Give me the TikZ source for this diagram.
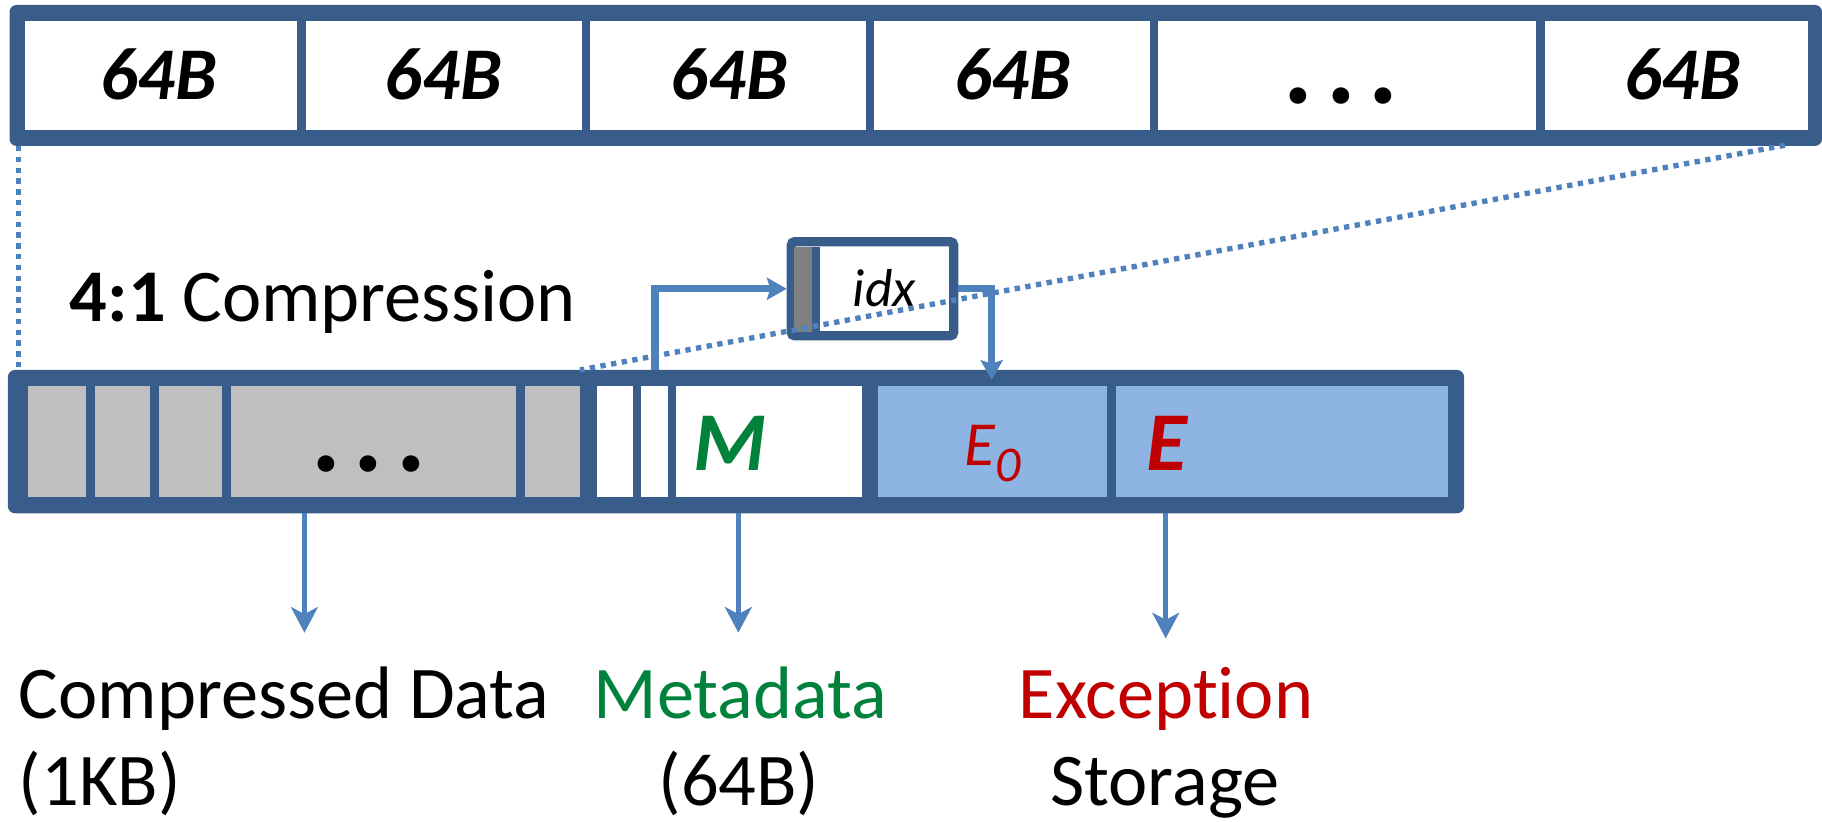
\documentclass[tikz,border=0pt]{standalone}
\usepackage{fontspec}
\setmainfont{Carlito}[Ligatures=NoCommon]
\usetikzlibrary{arrows.meta}
\definecolor{frameblue}{RGB}{56,93,138}
\definecolor{arrowblue}{RGB}{79,129,189}
\definecolor{cellgray}{RGB}{191,191,191}
\definecolor{cellblue}{RGB}{142,180,227}
\definecolor{idxgray}{RGB}{128,128,128}
\definecolor{mgreen}{RGB}{0,130,60}
\definecolor{ered}{RGB}{192,0,0}
\tikzset{
  framefill/.style={fill=frameblue, rounded corners=6pt},
  lbl/.style={font=\fontsize{64}{70}\selectfont, inner sep=0pt},
  bigtxt/.style={font=\fontsize{64}{70}\selectfont\bfseries\itshape, inner sep=0pt},
  dottxt/.style={font=\fontsize{96}{100}\selectfont\bfseries\itshape, inner sep=0pt},
  hugetxt/.style={font=\fontsize{72}{80}\selectfont\bfseries\itshape, inner sep=0pt},
  conn/.style={draw=arrowblue, line width=4.3pt, -{Stealth[length=22pt, width=23pt, inset=6pt]}},
  link/.style={draw=arrowblue, line width=6.3pt, -{Stealth[length=17pt, width=19pt, inset=3pt]}},
  guide/.style={draw=arrowblue, line width=4.6pt, dash pattern=on 4.6pt off 4.7pt},
}
\begin{document}
\begin{tikzpicture}[x=1pt,y=-1pt]
\useasboundingbox (0,0) rectangle (1568,707);

% ---------- top bar ----------
\fill[framefill] (8.2,4.3) rectangle (1568,125.6);
\foreach \a/\b in {21.4/255.2, 263/500.6, 508/745, 752.5/989.5, 996.6/1321.7, 1329.2/1555.6}
  \fill[white] (\a,18) rectangle (\b,111.9);
\node[bigtxt, anchor=base] (t1) at (136.5,86) {64B};
\node[bigtxt, anchor=base] (t2) at (381.5,86) {64B};
\node[bigtxt, anchor=base] (t3) at (627.5,86) {64B};
\node[bigtxt, anchor=base] (t4) at (871.5,86) {64B};
\node[dottxt, anchor=base] (t5) at (1156,89) {.\hspace{11pt}.\hspace{11pt}.};
\node[bigtxt, anchor=base] (t6) at (1448,86) {64B};

% ---------- bottom bar ----------
\fill[framefill] (6.8,318.4) rectangle (1260,441.7);
\foreach \a/\b in {24.5/74.2, 81.7/129.3, 136.8/191.2, 198.7/444, 451.6/499.2}
  \fill[cellgray] (\a,332.2) rectangle (\b,428);
\foreach \a/\b in {514/545, 552/575, 582/741.5}
  \fill[white] (\a,332.2) rectangle (\b,428);
\foreach \a/\b in {756/953, 960/1246.4}
  \fill[cellblue] (\a,332.2) rectangle (\b,428);
\node[dottxt, anchor=base] (gd) at (319,406) {.\hspace{11pt}.\hspace{11pt}.};
\node[hugetxt, anchor=base, text=mgreen] (mm) at (628.5,404.5) {M};
\node[inner sep=0pt, anchor=base, text=ered, font=\fontsize{54}{60}\selectfont\itshape] (e0) at (854.5,401) {E\raisebox{-13.5pt}{\fontsize{43}{50}\selectfont 0}};
\node[hugetxt, anchor=base, text=ered] (ee) at (1004.5,405) {E};

% ---------- idx box ----------
\node[draw=frameblue, fill=white, line width=8pt, rounded corners=3pt,
      minimum width=139.7pt, minimum height=81pt, inner sep=0pt] (idx) at (750.85,248.5) {};
\fill[idxgray] (683.6,212.9) rectangle (699,285.4);
\fill[frameblue] (699,212.9) rectangle (706,285.4);
\node[inner sep=0pt, anchor=base, font=\fontsize{46}{52}\selectfont\itshape] (idxt) at (761,264) {idx};

% ---------- connectors ----------
\coordinate (w2) at (563.7,318.4);
\coordinate (e0top) at (853.4,327);
\draw[link] (w2) |- (idx.west);
\draw[link] (idx.east) -| (e0top);

\coordinate (d1) at (262,441.7);   \coordinate (d1e) at (262,544.5);
\coordinate (d2) at (635.4,441.7); \coordinate (d2e) at (635.4,544.5);
\coordinate (d3) at (1003.2,441.7);\coordinate (d3e) at (1003.2,549.4);
\draw[conn] (d1) -- (d1e);
\draw[conn] (d2) -- (d2e);
\draw[conn] (d3) -- (d3e);

% ---------- labels ----------
\node[lbl, anchor=base west] (ratio) at (60,276.3) {\textbf{4:1} Compression};
\node[lbl, anchor=base west] (cd) at (16,618) {Compressed Data};
\node[lbl, anchor=base west] (kb) at (16,693) {(1KB)};
\node[lbl, anchor=base, text=mgreen] (md) at (637,618) {Metadata};
\node[lbl, anchor=base] (b64) at (636,693) {(64B)};
\node[lbl, anchor=base, text=ered] (ex) at (1003.5,618) {Exception};
\node[lbl, anchor=base] (st) at (1002.5,693) {Storage};

% ---------- dotted guides ----------
\coordinate (gl1) at (15.8,125.6); \coordinate (gl2) at (15.8,318.4);
\coordinate (gr1) at (1536,125);   \coordinate (gr2) at (499,318.4);
\draw[guide] (gl1) -- (gl2);
\draw[guide] (gr1) -- (gr2);
\end{tikzpicture}
\end{document}
